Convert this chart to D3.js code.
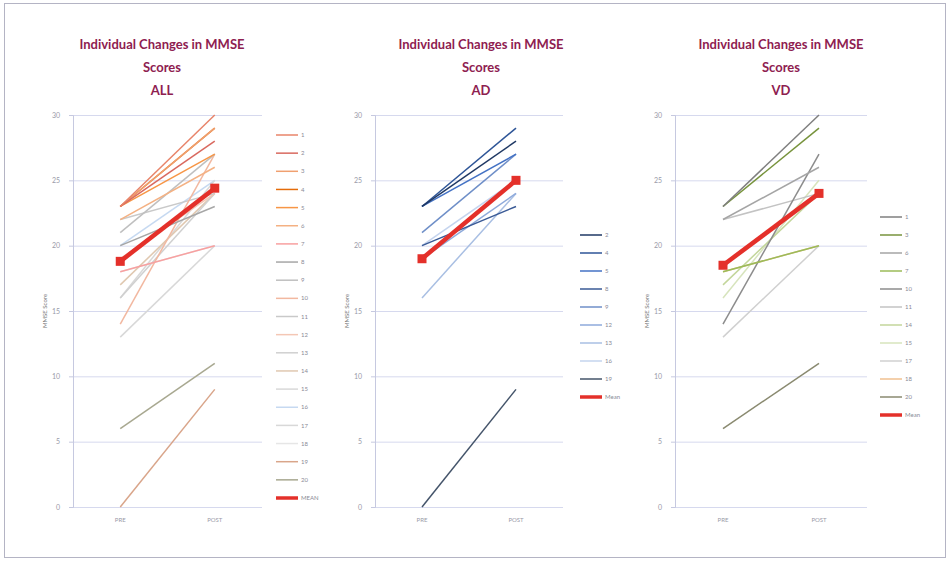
<!DOCTYPE html>
<html>
<head>
<meta charset="utf-8">
<script src="https://cdn.jsdelivr.net/npm/d3@7"></script>
<style>
  body { margin: 0; background: #ffffff; }
  svg { display: block; }
</style>
</head>
<body>
<div id="chart"></div>
<script>
// patient ids, scores before and after
const patientIds = [1, 2, 3, 4, 5, 6, 7, 8, 9, 10, 11, 12, 13, 14, 15, 16, 17, 18, 19, 20]
const preScores  = [23, 23, 23, 23, 23, 22, 18, 20, 21, 14, 22, 19, 16, 17, 16, 20, 13, 18, 0, 6]
const postScores = [30, 28, 29, 29, 27, 26, 20, 23, 27, 27, 24, 24, 24, 24, 25, 25, 20, 20, 9, 11]

// which patients belong to which group
const adIds = [2, 4, 5, 8, 9, 12, 13, 16, 19]
const vdIds = [1, 3, 6, 7, 10, 11, 14, 15, 17, 18, 20]

// group means
const meanAll = [18.8, 24.4]
const meanAd  = [19, 25]
const meanVd  = [18.5, 24]

const timePoints = ['PRE', 'POST']
const yTicks = [0, 5, 10, 15, 20, 25, 30]
const titleLines = ['Individual Changes in MMSE', 'Scores']

// colours for each panel's patient lines
const allColors = ['#e8846a', '#d9695f', '#f0a070', '#e46c0a', '#f79646', '#f4b183', '#f8a0a0',
  '#a6a6a6', '#bfbfbf', '#f2b8a0', '#c9c9c9', '#f4c7b5', '#d0d0d0', '#e0c8b0', '#d8d8d8',
  '#c6d9f1', '#d8d8d8', '#e6e6e6', '#d9a58a', '#a8a890']
const adColors = ['#1f3864', '#2e5597', '#4472c4', '#3a5a96', '#6f8fc8', '#8eaadb', '#a9bfe3',
  '#c5d4ee', '#44546a']
const vdColors = ['#7f7f7f', '#77933c', '#a5a5a5', '#9bbb59', '#8c8c8c', '#c3c3c3', '#c3d69b',
  '#d7e4bd', '#d0d0d0', '#f0c090', '#8a8a70']

const W = 951, H = 565

const svg = d3.select('#chart')
  .append('svg')
    .attr('width', W)
    .attr('height', H)

// outer frame
svg.append('rect')
  .attr('x', 4.5)
  .attr('y', 3.5)
  .attr('width', 941)
  .attr('height', 554)
  .attr('fill', '#ffffff')
  .attr('stroke', '#b4b4c4')

function rows(ids) {
  return ids.map(id => {
    let i = patientIds.indexOf(id)
    return { id: id, values: [preScores[i], postScores[i]] }
  })
}

function drawPanel(cfg) {
  let g = svg.append('g')

  let xScale = d3.scalePoint()
    .domain(timePoints)
    .range([cfg.left, cfg.right])
    .padding(0.5)

  let yScale = d3.scaleLinear()
    .domain([0, 30])
    .range([507, 115])

  // title
  g.append('text')
    .attr('x', cfg.titleX)
    .attr('y', 49)
    .attr('text-anchor', 'middle')
    .style('font-family', 'Lato')
    .style('font-weight', 700)
    .style('font-size', '13px')
    .style('fill', '#8e2050')
    .selectAll('tspan')
      .data(titleLines.concat([cfg.name]))
    .enter().append('tspan')
      .attr('x', cfg.titleX)
      .attr('dy', (d, i) => i === 0 ? 0 : 23)
      .text(d => d)

  // gridlines
  g.append('g')
    .attr('transform', 'translate(' + cfg.left + ',0)')
    .call(d3.axisLeft(yScale)
      .tickValues(yTicks)
      .tickSize(-(cfg.right - cfg.left))
      .tickFormat(''))
    .call(a => a.select('.domain').remove())
    .selectAll('line')
      .attr('stroke', '#d6d9ee')

  // y axis
  g.append('g')
    .attr('transform', 'translate(' + cfg.left + ',0)')
    .style('font-family', 'Lato')
    .style('font-size', '7px')
    .style('color', '#9a9aa8')
    .call(d3.axisLeft(yScale).tickValues(yTicks).tickSize(4).tickPadding(9))
    .call(a => a.select('.domain').attr('stroke', '#c6c9e0'))
    .call(a => a.selectAll('line').attr('stroke', '#c6c9e0'))

  // y title
  g.append('text')
    .attr('transform', 'translate(' + (cfg.left - 26) + ',311) rotate(-90)')
    .attr('text-anchor', 'middle')
    .style('font-family', 'Lato')
    .style('font-size', '6px')
    .style('fill', '#777')
    .text('MMSE Score')

  // x labels
  g.selectAll('.xlab')
      .data(timePoints)
    .enter().append('text')
      .attr('x', d => xScale(d))
      .attr('y', 522)
      .attr('text-anchor', 'middle')
      .style('font-family', 'Lato')
      .style('font-size', '6px')
      .style('fill', '#9a9aa8')
      .text(d => d)

  let line = d3.line()
    .x((d, i) => xScale(timePoints[i]))
    .y(d => yScale(d))

  let data = rows(cfg.ids)

  // patient lines, last ones drawn first so darker ones sit on top
  g.selectAll('.pline')
      .data(data.slice().reverse())
    .enter().append('path')
      .attr('d', d => line(d.values))
      .attr('fill', 'none')
      .attr('stroke', d => cfg.colors[cfg.ids.indexOf(d.id)])
      .attr('stroke-width', 1.5)

  // mean line
  g.append('path')
    .attr('d', line(cfg.mean))
    .attr('fill', 'none')
    .attr('stroke', '#e4302a')
    .attr('stroke-width', 4.5)

  g.selectAll('.mdot')
      .data(cfg.mean)
    .enter().append('rect')
      .attr('x', (d, i) => xScale(timePoints[i]) - 4.5)
      .attr('y', d => yScale(d) - 4.5)
      .attr('width', 9)
      .attr('height', 9)
      .attr('fill', '#e4302a')

  // legend
  let legend = g.selectAll('.leg')
      .data(data.map((d, i) => ({ label: String(d.id), color: cfg.colors[i], w: 1.5 }))
        .concat([{ label: cfg.meanLabel, color: '#e4302a', w: 3.5 }]))
    .enter().append('g')
      .attr('transform', (d, i) => 'translate(' + cfg.legX + ',' + (cfg.legY + i * cfg.legStep) + ')')

  legend.append('line')
    .attr('x1', 0)
    .attr('x2', 22)
    .attr('stroke', d => d.color)
    .attr('stroke-width', d => d.w)

  legend.append('text')
    .attr('x', 25)
    .attr('dy', '0.35em')
    .style('font-family', 'Lato')
    .style('font-size', '6px')
    .style('fill', '#8a8a96')
    .text(d => d.label)
}

drawPanel({ name: 'ALL', ids: patientIds, colors: allColors, mean: meanAll, meanLabel: 'MEAN',
  left: 73, right: 262, titleX: 162, legX: 276, legY: 135, legStep: 18.15 })
drawPanel({ name: 'AD', ids: adIds, colors: adColors, mean: meanAd, meanLabel: 'Mean',
  left: 375, right: 563, titleX: 481, legX: 580, legY: 235, legStep: 18 })
drawPanel({ name: 'VD', ids: vdIds, colors: vdColors, mean: meanVd, meanLabel: 'Mean',
  left: 675, right: 867, titleX: 781, legX: 880, legY: 217, legStep: 18 })
</script>
</body>
</html>
